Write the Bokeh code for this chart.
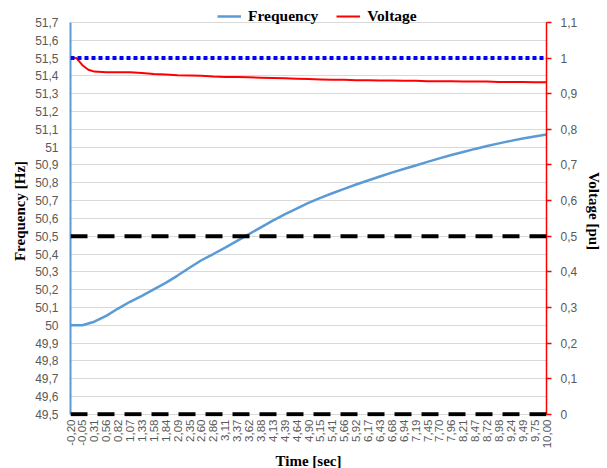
import math
from bokeh.plotting import figure
from bokeh.models import (Range1d, LinearAxis, Span, Legend, LegendItem,
                          FixedTicker, CustomJSTickFormatter)
from bokeh.embed import file_html
from bokeh.resources import INLINE

# ---------------- data ----------------
time_labels = ["-0,20", "-0,05", "0,31", "0,56", "0,82", "1,07", "1,33", "1,58",
               "1,84", "2,09", "2,35", "2,60", "2,86", "3,11", "3,37", "3,62",
               "3,88", "4,13", "4,39", "4,64", "4,90", "5,15", "5,41", "5,66",
               "5,92", "6,17", "6,43", "6,68", "6,94", "7,19", "7,45", "7,70",
               "7,96", "8,21", "8,47", "8,72", "8,98", "9,24", "9,49", "9,75",
               "10,00"]

freq_index = list(range(len(time_labels)))
frequency = [50.000, 50.000, 50.020, 50.053, 50.094, 50.132, 50.165, 50.202,
             50.238, 50.279, 50.323, 50.365, 50.400, 50.436, 50.474, 50.512,
             50.550, 50.587, 50.622, 50.655, 50.687, 50.715, 50.741, 50.766,
             50.790, 50.813, 50.835, 50.857, 50.877, 50.897, 50.917, 50.937,
             50.956, 50.973, 50.990, 51.006, 51.021, 51.035, 51.048, 51.060,
             51.071]

volt_index = [0, 0.5, 1, 1.5] + list(range(2, 41))
voltage = [1.000, 1.000, 0.980, 0.967, 0.962, 0.960, 0.960, 0.960, 0.958,
           0.955, 0.954, 0.952, 0.951, 0.950, 0.948, 0.947, 0.947, 0.946,
           0.945, 0.944, 0.943, 0.942, 0.941, 0.940, 0.939, 0.939, 0.938,
           0.938, 0.937, 0.937, 0.936, 0.936, 0.935, 0.935, 0.935, 0.934,
           0.934, 0.934, 0.933, 0.933, 0.933, 0.932, 0.932]

freq_limits = [50.5, 49.5]       # black dashed limits [Hz]
voltage_ref = [1.0]              # blue dotted reference [pu]

freq_axis = (49.5, 51.7)
volt_axis = (0.0, 1.1)
freq_ticks = [round(49.5 + 0.1 * k, 1) for k in range(23)]
volt_ticks = [round(0.1 * k, 1) for k in range(12)]

# ---------------- figure ----------------
SANS = "Liberation Sans"
SERIF = "Liberation Serif"
TICK_COLOR = "#595959"
BLUE = "#5B9BD5"
FH = 411
# frame reaches a bit below 49,5 (dashes not clipped) and above 51,7 (legend room)
F_LO, F_HI = 49.488, 51.795
V_LO, V_HI = (F_LO - 49.5) / 2, (F_HI - 49.5) / 2

p = figure(frame_width=476, frame_height=FH,
           min_border_left=70, min_border_top=5, min_border_right=40,
           min_border_bottom=20,
           x_range=Range1d(0, len(time_labels) - 1),
           y_range=Range1d(F_LO, F_HI),
           output_backend="svg", toolbar_location=None,
           background_fill_color="white", border_fill_color="white")
p.outline_line_color = None
p.extra_y_ranges = {"v": Range1d(V_LO, V_HI)}

fmt = CustomJSTickFormatter(code="""
var s = (Math.round(tick*10)/10).toString();
return s.replace('.', ',');
""")

# left axis
ya = p.yaxis[0]
ya.bounds = freq_axis
ya.ticker = FixedTicker(ticks=freq_ticks)
ya.formatter = fmt
ya.axis_label = "Frequency [Hz]"
ya.axis_label_text_font = SERIF
ya.axis_label_text_font_style = "bold"
ya.axis_label_text_font_size = "15px"
ya.axis_label_text_color = "black"
ya.axis_label_standoff = 4
ya.major_label_text_font = SANS
ya.major_label_text_font_size = "12px"
ya.major_label_text_color = TICK_COLOR
ya.major_label_standoff = 12
ya.major_tick_out = 0
ya.major_tick_in = 0
ya.minor_tick_out = 0
ya.minor_tick_in = 0
ya.axis_line_color = BLUE
ya.axis_line_width = 2

# right axis
ra = LinearAxis(y_range_name="v", ticker=FixedTicker(ticks=volt_ticks),
                formatter=fmt, bounds=volt_axis)
ra.axis_label = "Voltage [pu]"
ra.axis_label_text_font = SERIF
ra.axis_label_text_font_style = "bold"
ra.axis_label_text_font_size = "15px"
ra.axis_label_text_color = "black"
ra.axis_label_standoff = 6
ra.major_label_text_font = SANS
ra.major_label_text_font_size = "12px"
ra.major_label_text_color = TICK_COLOR
ra.major_label_standoff = 9
ra.major_tick_out = 5
ra.major_tick_in = 0
ra.minor_tick_out = 0
ra.minor_tick_in = 0
ra.major_tick_line_color = "red"
ra.major_tick_line_width = 1.5
ra.axis_line_color = "red"
ra.axis_line_width = 1.5
p.add_layout(ra, "right")

# bottom axis
xa = p.xaxis[0]
xa.ticker = FixedTicker(ticks=freq_index)
xa.major_label_overrides = {i: lab for i, lab in zip(freq_index, time_labels)}
xa.major_label_orientation = math.pi / 2
xa.major_label_text_font = SANS
xa.major_label_text_font_size = "11.5px"
xa.major_label_text_color = TICK_COLOR
xa.major_label_standoff = 3
xa.major_tick_out = 0
xa.major_tick_in = 0
xa.minor_tick_out = 0
xa.minor_tick_in = 0
xa.axis_line_color = None
xa.axis_label = "Time [sec]"
xa.axis_label_text_font = SERIF
xa.axis_label_text_font_style = "bold"
xa.axis_label_text_font_size = "15px"
xa.axis_label_text_color = "black"
xa.axis_label_standoff = 2

# grid
p.xgrid.visible = False
p.ygrid[0].ticker = FixedTicker(ticks=freq_ticks)
p.ygrid.grid_line_color = "#D9D9D9"
p.ygrid.grid_line_width = 1

# reference lines
for lim in freq_limits:
    p.add_layout(Span(location=lim, dimension="width", line_color="black",
                      line_width=4, line_dash="17 10"))
for ref in voltage_ref:
    p.add_layout(Span(location=ref, dimension="width", y_range_name="v",
                      line_color="#0000FF", line_width=4, line_dash="4 3"))

# series
r_f = p.line(freq_index, frequency, line_color=BLUE, line_width=2.5)
r_v = p.line(volt_index, voltage, y_range_name="v", line_color="#FF0000",
             line_width=2)

legend = Legend(items=[LegendItem(label="Frequency", renderers=[r_f]),
                       LegendItem(label="Voltage", renderers=[r_v])],
                orientation="horizontal", location=(147, FH - 20),
                background_fill_alpha=0, border_line_color=None,
                padding=0, margin=0, spacing=18, glyph_width=24,
                glyph_height=16, label_height=16, label_standoff=7,
                label_text_font=SERIF, label_text_font_style="bold",
                label_text_font_size="15.5px", label_text_color="black")
p.add_layout(legend, "center")

open("out.html", "w").write(file_html(p, INLINE))
